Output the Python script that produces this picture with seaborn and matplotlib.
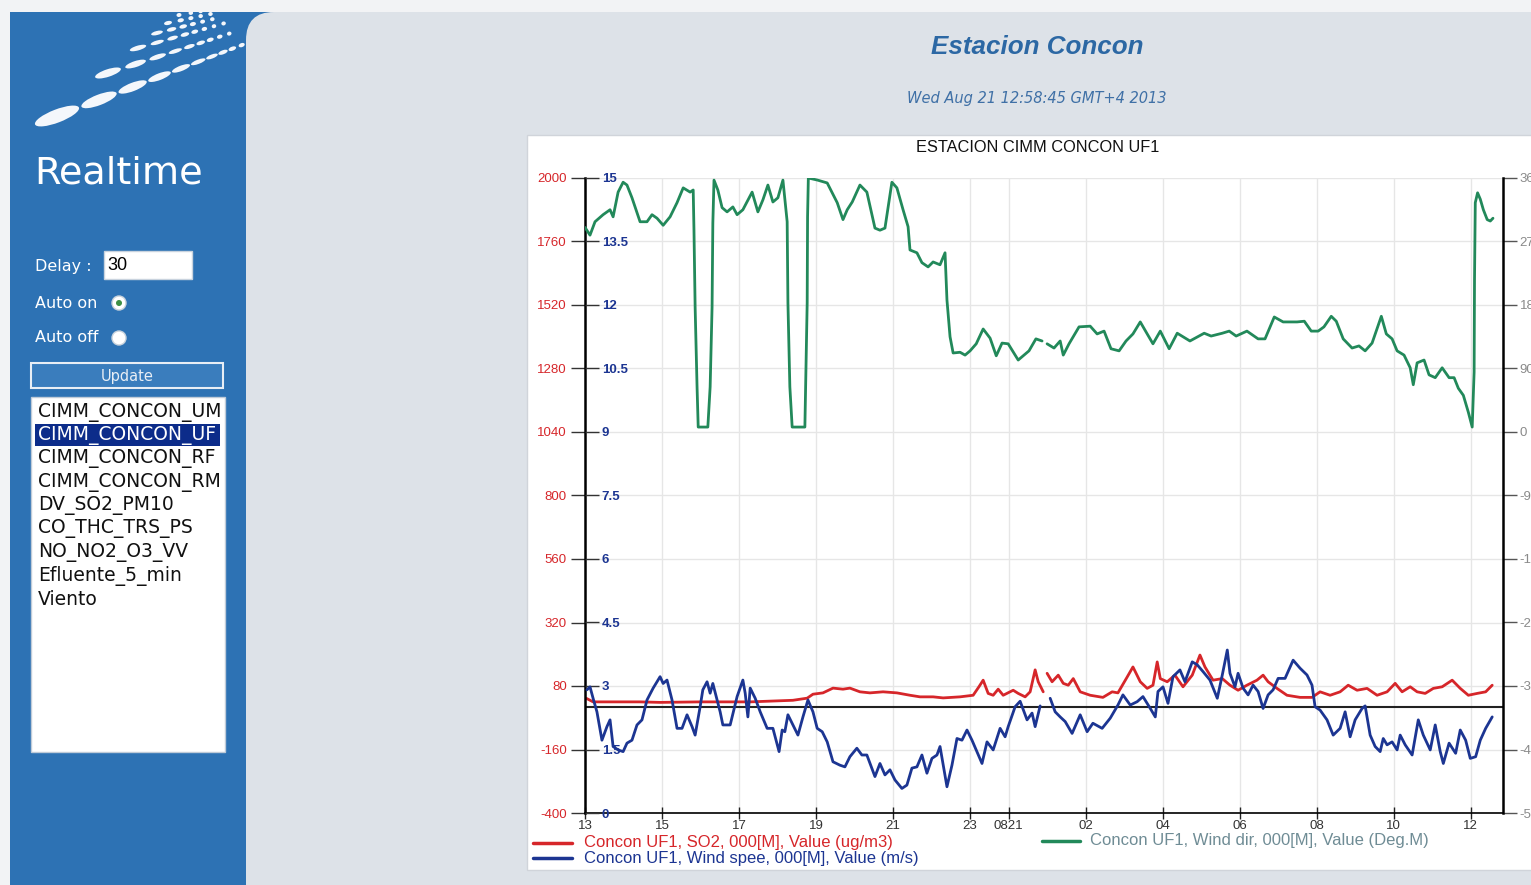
import numpy as np
import pandas as pd
import matplotlib
matplotlib.use('Agg')
import matplotlib.pyplot as plt
import matplotlib.dates as mdates
from matplotlib.patches import Rectangle, FancyBboxPatch, Ellipse, Circle
import seaborn as sns

sns.set_style('white')
plt.rcParams['font.family'] = ['DejaVu Sans']

nan = np.nan

# --- data (hours counted from 2013-08-20 00:00) ---
so2_hours = [13.04, 13.21, 14.43, 14.95, 15.99, 17.29, 18.40, 18.77, 18.92, 19.18,
             19.44, 19.70, 19.88, 20.14, 20.40, 20.74, 21.10, 21.44, 21.70, 22.04,
             22.30, 22.74, 23.08, 23.23, 23.34, 23.47, 23.60, 23.73, 23.86, 24.12,
             24.25, 24.43, 24.56, 24.69, 24.77, 24.90, 24.95, 25.00, 25.13, 25.29,
             25.42, 25.55, 25.68, 25.86, 26.12, 26.45, 26.69, 26.84, 27.08, 27.23,
             27.42, 27.60, 27.75, 27.86, 27.94, 28.12, 28.32, 28.53, 28.77, 28.97,
             29.10, 29.31, 29.55, 29.75, 29.96, 30.19, 30.45, 30.61, 30.74, 30.97,
             31.23, 31.57, 31.88, 32.09, 32.35, 32.61, 32.82, 33.05, 33.31, 33.57,
             33.83, 34.04, 34.22, 34.43, 34.61, 34.82, 35.03, 35.26, 35.52, 35.73,
             35.94, 36.17, 36.39, 36.56]
so2_vals = [33, 20, 20, 18, 20, 20, 26, 34, 49, 54,
            72, 68, 72, 58, 54, 58, 54, 45, 39, 39,
            35, 39, 45, 77, 102, 52, 45, 68, 45, 64,
            52, 39, 58, 141, 96, 58, nan, 128, 96, 121,
            90, 83, 108, 58, 45, 37, 58, 54, 114, 152,
            96, 71, 83, 171, 108, 96, 121, 77, 121, 197,
            152, 102, 108, 83, 64, 83, 102, 121, 96, 71,
            45, 37, 37, 58, 45, 58, 83, 64, 71, 45,
            58, 90, 58, 77, 58, 52, 71, 77, 102, 71,
            45, 52, 58, 83]

ws_hours = [13.05, 13.13, 13.21, 13.31, 13.44, 13.57, 13.65, 13.73, 13.86, 13.99,
            14.09, 14.22, 14.35, 14.48, 14.61, 14.77, 14.95, 15.03, 15.13, 15.26,
            15.39, 15.52, 15.65, 15.78, 15.86, 15.99, 16.06, 16.17, 16.25, 16.32,
            16.51, 16.58, 16.77, 16.95, 17.10, 17.16, 17.23, 17.29, 17.42, 17.55,
            17.73, 17.88, 18.04, 18.12, 18.19, 18.27, 18.40, 18.53, 18.66, 18.79,
            18.92, 19.03, 19.16, 19.29, 19.44, 19.62, 19.75, 19.88, 20.06, 20.19,
            20.32, 20.53, 20.66, 20.79, 20.92, 21.05, 21.23, 21.36, 21.49, 21.62,
            21.75, 21.88, 22.01, 22.14, 22.22, 22.40, 22.53, 22.66, 22.79, 22.92,
            23.05, 23.31, 23.44, 23.60, 23.78, 23.91, 23.99, 24.17, 24.30, 24.48,
            24.61, 24.69, 24.82, 24.95, 25.08, 25.21, 25.34, 25.47, 25.65, 25.86,
            26.04, 26.19, 26.43, 26.64, 26.84, 26.97, 27.16, 27.34, 27.49, 27.68,
            27.81, 27.88, 28.01, 28.14, 28.27, 28.45, 28.58, 28.77, 28.90, 29.05,
            29.23, 29.42, 29.55, 29.68, 29.75, 29.88, 29.96, 30.09, 30.22, 30.35,
            30.48, 30.61, 30.74, 30.87, 31.00, 31.18, 31.39, 31.57, 31.75, 31.88,
            31.96, 32.09, 32.27, 32.43, 32.61, 32.74, 32.87, 33.00, 33.18, 33.26,
            33.39, 33.52, 33.65, 33.73, 33.83, 33.96, 34.09, 34.17, 34.30, 34.48,
            34.64, 34.77, 34.95, 35.08, 35.21, 35.29, 35.44, 35.61, 35.73, 35.87,
            35.99, 36.13, 36.25, 36.39, 36.56]
ws_vals = [2.91, 2.98, 2.71, 2.39, 1.72, 2.04, 2.20, 1.57, 1.49, 1.45,
           1.65, 1.72, 2.08, 2.20, 2.67, 2.95, 3.22, 3.06, 3.14, 2.67,
           2.00, 2.00, 2.32, 2.04, 1.84, 2.51, 2.91, 3.10, 2.83, 3.06,
           2.39, 2.08, 2.08, 2.75, 3.14, 2.83, 2.27, 2.95, 2.71, 2.39,
           2.00, 2.00, 1.45, 1.96, 1.92, 2.32, 2.08, 1.84, 2.27, 2.67,
           2.39, 2.00, 1.92, 1.68, 1.21, 1.13, 1.09, 1.33, 1.53, 1.37,
           1.37, 0.86, 1.17, 0.90, 1.02, 0.78, 0.58, 0.66, 1.06, 1.09,
           1.37, 0.94, 1.29, 1.37, 1.57, 0.62, 1.13, 1.76, 1.72, 1.96,
           1.72, 1.17, 1.68, 1.49, 2.00, 1.80, 2.04, 2.51, 2.64, 2.20,
           2.36, 2.04, 2.53, nan, 2.71, 2.39, 2.27, 2.16, 1.88, 2.32,
           1.92, 2.12, 2.00, 2.24, 2.55, 2.79, 2.55, 2.63, 2.75, 2.47,
           2.27, 2.87, 2.98, 2.59, 3.22, 3.38, 3.10, 3.57, 3.50, 3.34,
           3.14, 2.71, 3.26, 3.85, 3.30, 2.98, 3.30, 2.95, 2.79, 3.02,
           2.87, 2.47, 2.79, 2.91, 3.18, 3.18, 3.61, 3.42, 3.26, 3.02,
           2.51, 2.43, 2.20, 1.84, 2.00, 2.39, 1.80, 2.20, 2.47, 2.53,
           1.84, 1.57, 1.45, 1.76, 1.61, 1.68, 1.49, 1.84, 1.61, 1.37,
           2.20, 1.84, 1.49, 2.08, 1.45, 1.17, 1.65, 1.41, 1.96, 1.72,
           1.29, 1.33, 1.72, 2.00, 2.27]

wd_hours = [13.00, 13.13, 13.26, 13.47, 13.65, 13.73, 13.86, 13.99, 14.09, 14.22,
            14.43, 14.61, 14.74, 14.87, 15.03, 15.21, 15.39, 15.55, 15.73, 15.81,
            15.83, 15.86, 15.91, 15.94, 16.19, 16.25, 16.30, 16.32, 16.35, 16.45,
            16.56, 16.69, 16.84, 16.95, 17.10, 17.34, 17.49, 17.62, 17.75, 17.88,
            18.01, 18.14, 18.25, 18.27, 18.32, 18.38, 18.71, 18.77, 18.78, 18.80,
            19.04, 19.29, 19.42, 19.55, 19.70, 19.81, 19.94, 20.14, 20.32, 20.53,
            20.66, 20.79, 20.97, 21.10, 21.26, 21.39, 21.44, 21.62, 21.75, 21.91,
            22.04, 22.22, 22.35, 22.40, 22.48, 22.56, 22.74, 22.87, 23.00, 23.16,
            23.34, 23.52, 23.68, 23.83, 23.99, 24.25, 24.53, 24.71, 24.87, 24.95,
            25.00, 25.18, 25.34, 25.42, 25.57, 25.83, 26.12, 26.30, 26.48, 26.66,
            26.87, 27.05, 27.23, 27.42, 27.60, 27.75, 27.94, 28.17, 28.38, 28.71,
            29.08, 29.26, 29.55, 29.73, 29.91, 30.19, 30.48, 30.66, 30.90, 31.13,
            31.49, 31.68, 31.86, 32.04, 32.19, 32.38, 32.51, 32.69, 32.92, 33.10,
            33.26, 33.44, 33.68, 33.81, 33.96, 34.09, 34.27, 34.43, 34.51, 34.61,
            34.79, 34.92, 35.08, 35.26, 35.44, 35.57, 35.68, 35.81, 35.94, 36.04,
            36.09, 36.10, 36.12, 36.18, 36.25, 36.33, 36.43, 36.51, 36.58]
wd_vals = [290, 279, 298, 308, 315, 305, 340, 354, 350, 332,
           298, 298, 308, 303, 293, 305, 325, 346, 340, 343,
           286, 177, 64, 7, 7, 64, 177, 296, 357, 343,
           318, 312, 319, 308, 315, 340, 312, 329, 350, 326,
           332, 357, 298, 183, 64, 7, 7, 183, 305, 360,
           357, 353, 339, 325, 301, 315, 326, 350, 340, 289,
           286, 289, 354, 346, 315, 291, 258, 254, 240, 234,
           241, 237, 254, 187, 135, 112, 113, 109, 115, 125,
           146, 133, 108, 126, 125, 102, 115, 132, 129, nan,
           125, 119, 129, 109, 125, 149, 150, 139, 143, 118,
           115, 129, 139, 156, 139, 125, 143, 118, 140, 129,
           140, 136, 140, 143, 136, 143, 132, 132, 163, 156,
           156, 157, 143, 143, 149, 164, 157, 132, 119, 122,
           115, 126, 164, 139, 132, 115, 109, 91, 67, 98,
           102, 81, 77, 91, 77, 77, 62, 52, 28, 7,
           85, 215, 325, 339, 330, 315, 301, 299, 303]

x_tick_hours = [13, 15, 17, 19, 21, 23, 24, 26, 28, 30, 32, 34, 36]
x_tick_labels = ['13', '15', '17', '19', '21', '23', '0821', '02', '04', '06', '08', '10', '12']
so2_ticks = [2000, 1760, 1520, 1280, 1040, 800, 560, 320, 80, -160, -400]
ws_ticks = [15, 13.5, 12, 10.5, 9, 7.5, 6, 4.5, 3, 1.5, 0]
ws_tick_labels = ['15', '13.5', '12', '10.5', '9', '7.5', '6', '4.5', '3', '1.5', '0']
wd_ticks = [360, 270, 180, 90, 0, -90, -180, -270, -360, -450, -540]

station_list = ['CIMM_CONCON_UM', 'CIMM_CONCON_UF', 'CIMM_CONCON_RF', 'CIMM_CONCON_RM',
                'DV_SO2_PM10', 'CO_THC_TRS_PS', 'NO_NO2_O3_VV', 'Efluente_5_min', 'Viento']

T0 = pd.Timestamp('2013-08-20')

RED = '#d6262a'
BLUE = '#1c3592'
GREEN = '#22895a'
SIDE = '#2d72b4'
PAGE = '#dde2e8'
CHART_FONT = 'Liberation Sans'


def make_frame(hours, vals):
    df = pd.DataFrame({'time': T0 + pd.to_timedelta(hours, unit='h'), 'value': vals})
    df['seg'] = df['value'].isna().cumsum()
    return df.dropna()


so2 = make_frame(so2_hours, so2_vals)
ws = make_frame(ws_hours, ws_vals)
wd = make_frame(wd_hours, wd_vals)

W, H = 1531, 885
fig = plt.figure(figsize=(W / 100, H / 100), dpi=100)
fig.patch.set_facecolor('#f2f3f5')


def fbox(x0, y0, x1, y1):
    return [x0 / W, 1 - y1 / H, (x1 - x0) / W, (y1 - y0) / H]


# --- page background / side bar (pixel coordinates) ---
bg = fig.add_axes([0, 0, 1, 1])
bg.set_xlim(0, W)
bg.set_ylim(H, 0)
bg.axis('off')

side = Rectangle((10, 12), 270, H, color=SIDE, lw=0)
bg.add_patch(side)
bg.add_patch(FancyBboxPatch((246, 12), 1400, 1000, boxstyle='round,pad=0,rounding_size=28',
                            fc=PAGE, ec='none'))

# logo: rows of shrinking white dashes
logo_rows = [((57, 116), 47, 45, 10, 21), ((108, 73), 27, 29, 9, 18),
             ((138, 48), 17, 20, 8, 16), ((157, 33), 12, 15, 6, 14),
             ((168, 23), 8, 13, 5, 12), ((179, 15), 5, 12, 5, 10)]
for (x, y), L0, S0, n, ang in logo_rows:
    for k in range(n):
        L = max(L0 * 0.8 ** k, 4.5)
        e = Ellipse((x, y), L, max(L * 0.28, 4), angle=-ang, fc='#f4f7fb', ec='none')
        bg.add_patch(e)
        e.set_clip_path(side)
        step = max(S0 * 0.8 ** k, 10)
        x += step * np.cos(np.radians(ang))
        y -= step * np.sin(np.radians(ang))

bg.text(34, 173, 'Realtime', color='white', fontsize=27.5, va='center', ha='left')
bg.text(35, 266, 'Delay :', color='white', fontsize=11.5, va='center')
bg.add_patch(Rectangle((104, 251), 88, 28, fc='white', ec='#c9d3de', lw=1))
bg.text(107, 265, '30', color='black', fontsize=13, va='center', family=CHART_FONT)
bg.text(35, 303, 'Auto on', color='white', fontsize=11.5, va='center')
bg.add_patch(Circle((119, 303), 7, fc='white', ec='#c8d2dc', lw=1))
bg.add_patch(Circle((119, 303), 3, fc='#3d8f45', ec='none'))
bg.text(35, 338, 'Auto off', color='white', fontsize=11.5, va='center')
bg.add_patch(Circle((119, 338), 7, fc='white', ec='#c8d2dc', lw=1))
bg.add_patch(Rectangle((31, 363), 192, 25, fc='#3a7dbd', ec='#e8eef5', lw=1.5))
bg.text(127, 376, 'Update', color='#e8eef5', fontsize=10.5, ha='center', va='center')

listbox = Rectangle((31, 397), 194, 355, fc='white', ec='#bfcbd8', lw=1)
bg.add_patch(listbox)
bg.add_patch(Rectangle((35, 424), 185, 22, fc='#0c2c8a', ec='none'))
for i, name in enumerate(station_list):
    t = bg.text(38, 412 + 23.4 * i, name, fontsize=13.5, va='center',
                color='white' if i == 1 else '#111111')
    t.set_clip_path(listbox)

# header
bg.text(1037, 47, 'Estacion Concon', color='#2c68a4', fontsize=18.7, fontweight='bold',
        fontstyle='italic', family=CHART_FONT, ha='center', va='center')
bg.text(1037, 98, 'Wed Aug 21 12:58:45 GMT+4 2013', color='#3f70a6', fontsize=10.5,
        fontstyle='italic', ha='center', va='center')

# chart panel
bg.add_patch(Rectangle((527, 135), 1010, 735, fc='white', ec='#d0d4da', lw=1))
bg.text(1038, 148, 'ESTACION CIMM CONCON UF1', fontsize=11.8, ha='center', va='center',
        family=CHART_FONT, color='#111111')

# legend
bg.plot([533, 572], [843, 843], color=RED, lw=2.5)
bg.text(584, 843, 'Concon UF1, SO2, 000[M], Value (ug/m3)', color=RED, fontsize=12,
        va='center', family=CHART_FONT)
bg.plot([533, 572], [858, 858], color=BLUE, lw=2.5)
bg.text(584, 858, 'Concon UF1, Wind spee, 000[M], Value (m/s)', color=BLUE, fontsize=12,
        va='center', family=CHART_FONT)
bg.plot([1042, 1080], [841, 841], color=GREEN, lw=2.5)
bg.text(1090, 841, 'Concon UF1, Wind dir, 000[M], Value (Deg.M)', color='#6f8c95',
        fontsize=12, va='center', family=CHART_FONT)

# --- chart ---
ax = fig.add_axes(fbox(585, 178, 1503, 813))
ax.set_facecolor('white')
ax_ws = ax.twinx()
ax_wd = ax.twinx()

sns.lineplot(data=wd, x='time', y='value', units='seg', estimator=None, color=GREEN,
             lw=2, ax=ax_wd, legend=False)
sns.lineplot(data=so2, x='time', y='value', units='seg', estimator=None, color=RED,
             lw=2, ax=ax, legend=False)
sns.lineplot(data=ws, x='time', y='value', units='seg', estimator=None, color=BLUE,
             lw=2, ax=ax_ws, legend=False)
ax.axhline(0, color='#222222', lw=1.5, zorder=1)

for a in (ax, ax_ws, ax_wd):
    a.set_xlabel('')
    a.set_ylabel('')
    for s in a.spines.values():
        s.set_visible(False)

ax.set_xlim(T0 + pd.Timedelta(hours=13), T0 + pd.Timedelta(hours=36.84))
tick_pos = mdates.date2num(list(T0 + pd.to_timedelta(x_tick_hours, unit='h')))
ax.set_xticks(tick_pos)
ax.set_xticklabels(x_tick_labels, fontsize=9.5, family=CHART_FONT, color='#333333')
ax.tick_params(axis='x', direction='inout', length=8, width=1, color='#222222', pad=1,
               bottom=True)

ax.set_ylim(-400, 2000)
ax.set_yticks(so2_ticks)
ax.set_yticklabels([str(v) for v in so2_ticks], fontsize=9.5, family=CHART_FONT, color=RED)
ax.tick_params(axis='y', direction='out', length=10, width=1, color='#333333', pad=3,
               left=True)
ax.grid(True, color='#e6e6e6', lw=1)
ax.set_axisbelow(True)
ax.spines['left'].set_visible(True)
ax.spines['left'].set_color('black')
ax.spines['left'].set_linewidth(1.8)
ax.spines['bottom'].set_visible(True)
ax.spines['bottom'].set_color('black')
ax.spines['bottom'].set_linewidth(1.2)

# wind speed: scale drawn just inside the left axis
ax_ws.set_ylim(0, 15)
ax_ws.spines['right'].set_position(('axes', 0))
ax_ws.set_yticks(ws_ticks)
ax_ws.set_yticklabels(ws_tick_labels, fontsize=9.5, family=CHART_FONT, color=BLUE,
                      fontweight='bold')
ax_ws.tick_params(axis='y', direction='out', length=10, width=1, color='#333333', pad=2,
                  right=True)

# wind direction: right axis (labels run off the page edge, as in the screenshot)
ax_wd.set_ylim(-540, 360)
ax_wd.set_yticks(wd_ticks)
ax_wd.set_yticklabels([str(v) for v in wd_ticks], fontsize=9.5, family=CHART_FONT,
                      color='#8a8a8a')
ax_wd.tick_params(axis='y', direction='out', length=10, width=1, color='#555555', pad=2,
                  right=True)
ax_wd.spines['right'].set_visible(True)
ax_wd.spines['right'].set_color('black')
ax_wd.spines['right'].set_linewidth(1.8)

fig.savefig('out.png', dpi=100, facecolor=fig.get_facecolor())
